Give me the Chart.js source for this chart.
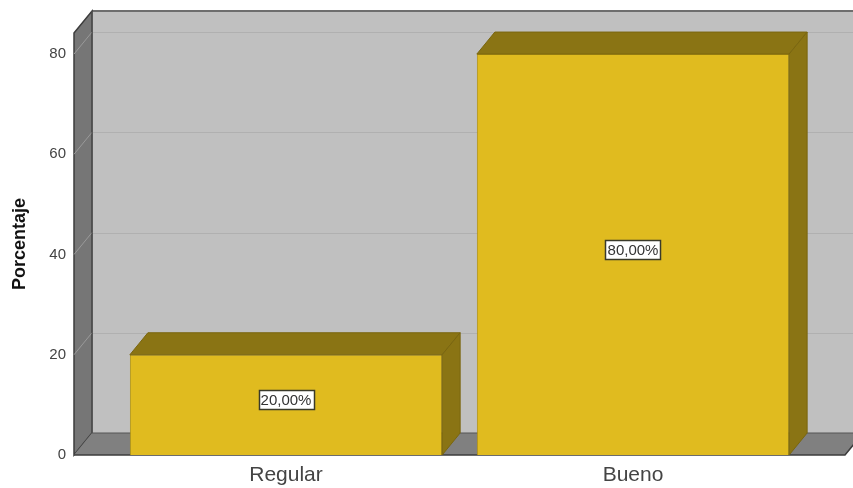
<!DOCTYPE html>
<html><head><meta charset="utf-8">
<script src="https://cdn.jsdelivr.net/npm/chart.js@4.4.1/dist/chart.umd.min.js"></script>
<style>html,body{margin:0;padding:0;background:#fff}#wrap{width:853px;height:488px}</style>
</head><body><div id="wrap"><canvas id="c" width="853" height="488"></canvas></div>
<script>
const categories = ["Regular", "Bueno"];
const percentages = [20, 80];
const yTicks = [0, 20, 40, 60, 80];

const DX = 18, DY = -22;
const FONT = "'Liberation Sans', Arial, sans-serif";

const threeD = {
  id: 'threeD',
  beforeDatasetsDraw(chart) {
    const ctx = chart.ctx, a = chart.chartArea, ys = chart.scales.y;
    const W = chart.width;
    ctx.save();
    // back wall
    ctx.fillStyle = '#c0c0c0';
    ctx.fillRect(a.left + DX, a.top + DY, W - (a.left + DX) + 20, a.bottom - a.top);
    // gridlines on back wall
    ctx.strokeStyle = '#b0b0b0'; ctx.lineWidth = 1;
    yTicks.forEach(v => {
      if (v === 0) return;
      const y = Math.round(ys.getPixelForValue(v) + DY) + 0.5;
      ctx.beginPath(); ctx.moveTo(a.left + DX, y); ctx.lineTo(W + 20, y); ctx.stroke();
    });
    // top border of back wall
    ctx.strokeStyle = '#6e6e6e'; ctx.lineWidth = 2;
    ctx.beginPath(); ctx.moveTo(a.left + DX, a.top + DY); ctx.lineTo(W + 20, a.top + DY); ctx.stroke();
    // left wall
    ctx.fillStyle = '#767676';
    ctx.beginPath();
    ctx.moveTo(a.left, a.top); ctx.lineTo(a.left + DX, a.top + DY);
    ctx.lineTo(a.left + DX, a.bottom + DY); ctx.lineTo(a.left, a.bottom); ctx.closePath(); ctx.fill();
    ctx.strokeStyle = '#3c3c3c'; ctx.lineWidth = 1.5; ctx.stroke();
    // left wall gridlines
    ctx.strokeStyle = '#9a9a9a'; ctx.lineWidth = 1;
    yTicks.forEach(v => {
      if (v === 0) return;
      const y = ys.getPixelForValue(v);
      ctx.beginPath(); ctx.moveTo(a.left, y); ctx.lineTo(a.left + DX, y + DY); ctx.stroke();
    });
    // floor
    ctx.fillStyle = '#808080';
    ctx.beginPath();
    ctx.moveTo(a.left, a.bottom); ctx.lineTo(a.left + DX, a.bottom + DY);
    ctx.lineTo(a.right + DX, a.bottom + DY); ctx.lineTo(a.right, a.bottom); ctx.closePath(); ctx.fill();
    ctx.strokeStyle = '#3c3c3c'; ctx.lineWidth = 1.5;
    ctx.beginPath(); ctx.moveTo(a.left, a.bottom); ctx.lineTo(a.right, a.bottom); ctx.lineTo(a.right + DX, a.bottom + DY); ctx.stroke();
    ctx.beginPath(); ctx.moveTo(a.left + DX, a.top + DY); ctx.lineTo(a.left + DX, a.bottom + DY); ctx.lineTo(a.right + DX, a.bottom + DY); ctx.lineWidth = 1; ctx.strokeStyle = '#555'; ctx.stroke();
    ctx.restore();
  },
  afterDatasetsDraw(chart) {
    const ctx = chart.ctx, meta = chart.getDatasetMeta(0);
    ctx.save();
    meta.data.forEach((bar, i) => {
      const p = bar.getProps(['x', 'y', 'base', 'width'], true);
      const l = p.x - p.width / 2, r = p.x + p.width / 2, t = p.y, b = p.base;
      ctx.fillStyle = '#8a7414'; ctx.strokeStyle = '#7a660f'; ctx.lineWidth = 1;
      // top face
      ctx.beginPath();
      ctx.moveTo(l, t); ctx.lineTo(l + DX, t + DY); ctx.lineTo(r + DX, t + DY); ctx.lineTo(r, t); ctx.closePath();
      ctx.fill(); ctx.stroke();
      // side face
      ctx.beginPath();
      ctx.moveTo(r, t); ctx.lineTo(r + DX, t + DY); ctx.lineTo(r + DX, b + DY); ctx.lineTo(r, b); ctx.closePath();
      ctx.fill(); ctx.stroke();
      // label
      const txt = percentages[i].toFixed(2).replace('.', ',') + '%';
      ctx.font = '15px ' + FONT;
      const tw = ctx.measureText(txt).width;
      const cy = (t + b) / 2 - 5, bw = Math.round(tw + 4), bh = 19;
      const bx = Math.round(p.x - bw / 2) + 0.5, by = Math.round(cy - bh / 2) + 0.5;
      ctx.fillStyle = '#ffffff';
      ctx.fillRect(bx, by, bw, bh);
      ctx.strokeStyle = '#3a3a2a'; ctx.lineWidth = 1.5;
      ctx.strokeRect(bx, by, bw, bh);
      ctx.fillStyle = '#333'; ctx.textAlign = 'center'; ctx.textBaseline = 'middle';
      ctx.fillText(txt, p.x, cy + 1);
    });
    ctx.restore();
  }
};

new Chart(document.getElementById('c'), {
  type: 'bar',
  data: {
    datasets: [{
      data: categories.map((c, i) => ({ x: i, y: percentages[i] })),
      backgroundColor: '#e0bb1f',
      borderColor: '#b09212',
      borderWidth: 1,
      barPercentage: 0.9,
      categoryPercentage: 1.0
    }]
  },
  options: {
    responsive: false,
    animation: false,
    events: [],
    layout: { padding: { left: 0, top: 33, right: 8, bottom: 0 } },
    plugins: { legend: { display: false }, tooltip: { enabled: false } },
    scales: {
      x: {
        type: 'linear', min: -0.611, max: 1.611, offset: false,
        afterBuildTicks: s => { s.ticks = categories.map((c, i) => ({ value: i })); },
        afterFit: s => { s.height = 33; },
        grid: { display: false, drawTicks: false, offset: false },
        border: { display: false },
        ticks: { callback: v => categories[v], padding: 8, color: '#444', font: { family: FONT, size: 21 }, maxRotation: 0, autoSkip: false }
      },
      y: {
        min: 0, max: 84.2,
        afterBuildTicks: s => { s.ticks = yTicks.map(v => ({ value: v })); },
        afterFit: s => { s.width = 74; },
        grid: { display: false, drawTicks: false },
        border: { display: false },
        ticks: { padding: 8, color: '#444', font: { family: FONT, size: 15 } },
        title: { display: true, text: 'Porcentaje', color: '#111', font: { family: FONT, size: 18, weight: 'bold' }, padding: { top: 9, bottom: 0 } }
      }
    }
  },
  plugins: [threeD]
});
</script>
</body></html>
